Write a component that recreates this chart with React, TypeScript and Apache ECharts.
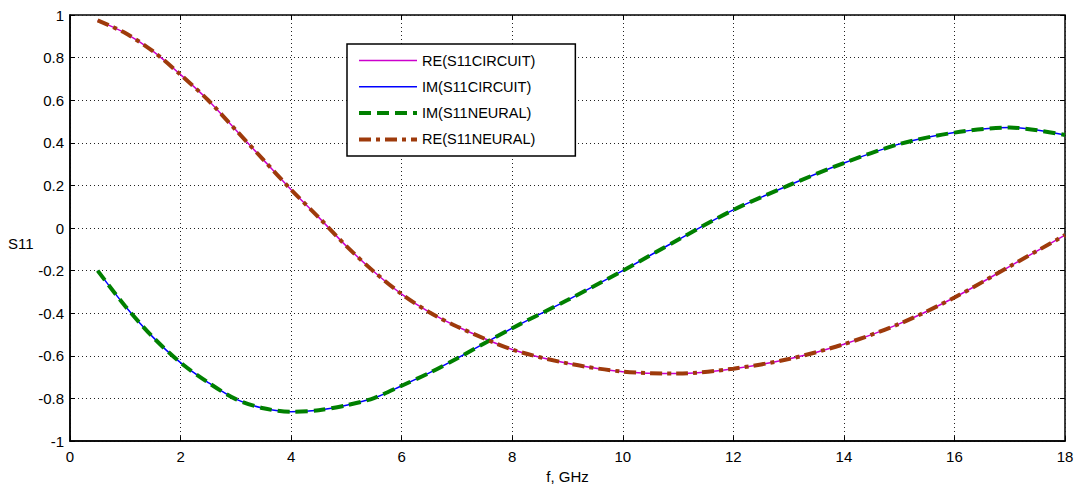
import React, { useEffect, useRef } from "react";
import * as echarts from "echarts";

const freq = [0.5, 1, 1.5, 2, 2.5, 3, 3.5, 4, 4.5, 5, 5.5, 6, 6.5, 7, 8, 9, 10, 11, 12, 13, 14, 15, 16, 17, 18];
const reS11 = [0.975, 0.915, 0.83, 0.72, 0.6, 0.46, 0.32, 0.18, 0.05, -0.085, -0.205, -0.31, -0.395, -0.462, -0.57, -0.635, -0.674, -0.683, -0.66, -0.615, -0.545, -0.45, -0.326, -0.18, -0.033];
const imS11 = [-0.2, -0.367, -0.512, -0.632, -0.725, -0.803, -0.846, -0.862, -0.855, -0.832, -0.798, -0.74, -0.68, -0.612, -0.47, -0.338, -0.2, -0.055, 0.085, 0.2, 0.305, 0.394, 0.448, 0.472, 0.437];
const seriesNames = ["RE(S11CIRCUIT)", "IM(S11CIRCUIT)", "IM(S11NEURAL)", "RE(S11NEURAL)"];

const pairs = (ys: number[]) => freq.map((f, i) => [f, ys[i]]);
const FONT = "Liberation Sans, Arial, sans-serif";

const styles = [
  { color: "#CC00CC", width: 1.5, type: "solid" as any },
  { color: "#0000FF", width: 1.5, type: "solid" as any },
  { color: "#008000", width: 4, type: [12, 6] as any },
  { color: "#9E3A0B", width: 4, type: [12, 5, 4, 5] as any },
];

export default function App() {
  const ref = useRef<HTMLDivElement>(null);
  useEffect(() => {
    const chart = echarts.init(ref.current!, null, { renderer: "svg" });
    const fmt = (v: number) => String(Math.round(v * 10) / 10);
    const grid = { left: 70, right: 15, top: 15, bottom: 45 };
    chart.setOption({
      animation: false,
      backgroundColor: "#fff",
      grid: { ...grid, show: true, borderColor: "#000", borderWidth: 1.5, backgroundColor: "#fff" },
      legend: {
        data: seriesNames.map((n, i) => ({ name: n, lineStyle: { ...styles[i] } })),
        orient: "vertical",
        left: 347,
        top: 44,
        padding: [9, 40, 9, 10],
        itemWidth: 58,
        itemHeight: 14,
        itemGap: 11.3,
        itemStyle: { opacity: 0 },
        backgroundColor: "#fff",
        borderColor: "#000",
        borderWidth: 1.5,
        textStyle: { fontFamily: FONT, fontSize: 14.5, color: "#000" },
      },
      xAxis: [
        {
          type: "value", min: 0, max: 18, interval: 2,
          name: "f, GHz", nameLocation: "middle", nameGap: 24,
          nameTextStyle: { fontFamily: FONT, fontSize: 15, color: "#000" },
          axisLine: { onZero: false, lineStyle: { color: "#000", width: 1.5 } },
          axisTick: { inside: true, length: 5, lineStyle: { color: "#000" } },
          axisLabel: { fontFamily: FONT, fontSize: 15, color: "#000", margin: 8, formatter: fmt },
          splitLine: { show: true, lineStyle: { color: "#222", type: [1, 3], width: 1 } },
        },
        {
          type: "value", min: 0, max: 18, interval: 2, position: "top",
          axisLine: { show: false, onZero: false },
          axisTick: { inside: true, length: 5, lineStyle: { color: "#000" } },
          axisLabel: { show: false },
          splitLine: { show: false },
        },
      ],
      yAxis: [
        {
          type: "value", min: -1, max: 1, interval: 0.2,
          axisLine: { show: true, onZero: false, lineStyle: { color: "#000", width: 1.5 } },
          axisTick: { show: true, inside: true, length: 5, lineStyle: { color: "#000" } },
          axisLabel: { fontFamily: FONT, fontSize: 15, color: "#000", margin: 6, formatter: fmt },
          splitLine: { show: true, lineStyle: { color: "#222", type: [1, 3], width: 1 } },
        },
        {
          type: "value", min: -1, max: 1, interval: 0.2, position: "right",
          axisLine: { show: false, onZero: false },
          axisTick: { show: true, inside: true, length: 5, lineStyle: { color: "#000" } },
          axisLabel: { show: false },
          splitLine: { show: false },
        },
      ],
      graphic: [
        { type: "text", left: 8, top: 236, style: { text: "S11", font: `15px ${FONT}`, fill: "#000" } },
      ],
      series: [
        { name: seriesNames[0], type: "line", data: pairs(reS11), smooth: 0.3, symbol: "none", lineStyle: styles[0], itemStyle: { color: styles[0].color } },
        { name: seriesNames[1], type: "line", data: pairs(imS11), smooth: 0.3, symbol: "none", lineStyle: styles[1], itemStyle: { color: styles[1].color } },
        { name: seriesNames[2], type: "line", data: pairs(imS11), smooth: 0.3, symbol: "none", lineStyle: styles[2], itemStyle: { color: styles[2].color } },
        { name: seriesNames[3], type: "line", data: pairs(reS11), smooth: 0.3, symbol: "none", lineStyle: styles[3], itemStyle: { color: styles[3].color } },
      ],
    });
    return () => chart.dispose();
  }, []);
  return <div ref={ref} style={{ width: 1080, height: 489, position: "absolute", left: 0, top: 0 }} />;
}
